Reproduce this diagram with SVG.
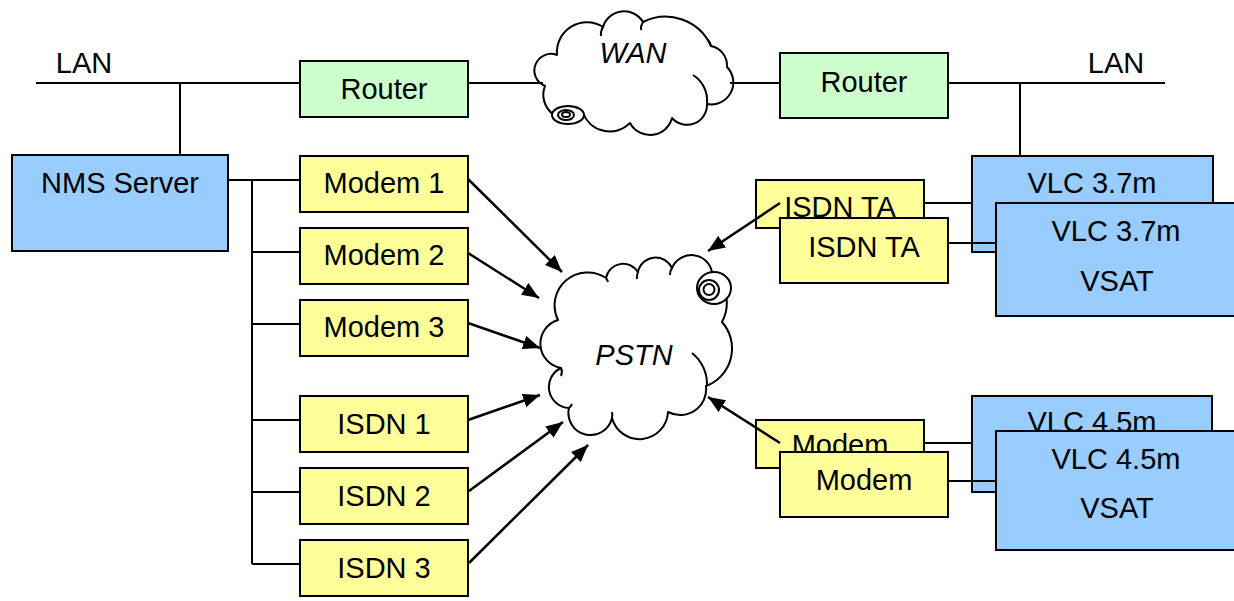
<svg xmlns="http://www.w3.org/2000/svg" width="1234" height="601" viewBox="0 0 1234 601">
<style>
  text { font-family: "Liberation Sans", Arial, sans-serif; font-size: 29px; fill: #000; text-anchor: middle; }
  .it { font-style: italic; }
  .yel { fill: #FFFF99; stroke: #000; stroke-width: 2; }
  .grn { fill: #CCFFCC; stroke: #000; stroke-width: 2; }
  .blu { fill: #99CCFF; stroke: #000; stroke-width: 2; }
  .ln { fill: none; stroke: #000; stroke-width: 2; }
  .arr { fill: none; stroke: #000; stroke-width: 2.5; marker-end: url(#ah); }
  .cloud { fill: #fff; stroke: #000; stroke-width: 2; stroke-linejoin: round; }
</style>
<defs>
  <marker id="ah" markerUnits="userSpaceOnUse" markerWidth="18" markerHeight="14" refX="17" refY="7" orient="auto">
    <path d="M0,0 L17,7 L0,14 z" fill="#000"/>
  </marker>
</defs>
<rect width="1234" height="601" fill="#fff"/>

<g id="lan-left-label"><text x="84" y="73">LAN</text></g>
<g id="lan-right-label"><text x="1116" y="73">LAN</text></g>

<g id="wan">
  <path class="cloud" d="M557,55 A30,30 0 0 1 603,27 A22,22 0 0 1 643,22 A50,50 0 0 1 711,46 A20,20 0 0 1 727,67 A22,22 0 0 1 707,104 A20,20 0 0 1 672,118 A22.7,22.7 0 0 1 630,123 A28.6,28.6 0 0 1 583,113 A24,24 0 0 1 545,86 A16,16 0 0 1 557,55 Z"/>
  <path class="ln" d="M693,75 A30,30 0 0 1 707,103 M603,27 A14,14 0 0 0 601,36 M643,22 A12,12 0 0 0 641,30 M711,46 A12,12 0 0 0 708,40"/>
  <ellipse cx="568" cy="115" rx="16" ry="9" class="cloud"/>
  <ellipse cx="566" cy="115" rx="8" ry="5" class="ln"/>
  <ellipse cx="566" cy="114.5" rx="4" ry="2.5" class="ln"/>
  <text class="it" x="633" y="63">WAN</text>
</g>

<g id="pstn">
  <path class="cloud" d="M558,320 A33,33 0 0 1 606,278 A17.5,17.5 0 0 1 638,272 A18,18 0 0 1 672,268 A21,21 0 0 1 712,272 A40,40 0 0 1 722,322 A40,40 0 0 1 706,386 A26,26 0 0 1 668,412 A28.5,28.5 0 0 1 612,418 A22,22 0 0 1 569,408 A21,21 0 0 1 561,368 A24.7,24.7 0 0 1 558,320 Z"/>
  <path class="ln" d="M692,353 A40,40 0 0 1 707,386 M606,278 A14,14 0 0 1 608,282 M638,272 A12,12 0 0 0 637,279 M672,268 A12,12 0 0 0 670,275 M561,368 A10,10 0 0 1 561,376 M569,408 A14,14 0 0 0 572,404 M612,418 A14,14 0 0 0 612,412"/>
  <ellipse cx="714" cy="288" rx="17" ry="16" class="cloud"/>
  <circle cx="709" cy="290" r="10" class="ln"/>
  <circle cx="709" cy="289.5" r="5.5" class="ln"/>
  <text class="it" x="634" y="365">PSTN</text>
</g>

<g id="isdn-ta-back"><rect class="yel" x="756" y="180" width="168" height="48"/><text x="840" y="217">ISDN TA</text></g>
<g id="vlc37-back"><rect class="blu" x="972" y="156" width="241" height="96"/><text x="1092" y="193">VLC 3.7m</text></g>
<g id="modem-back"><rect class="yel" x="756" y="420" width="168" height="48"/><text x="840" y="455">Modem</text></g>
<g id="vlc45-back"><rect class="blu" x="972" y="396" width="240" height="96"/><text x="1092" y="432">VLC 4.5m</text></g>

<g id="connectors">
  <path class="ln" d="M36,83 H300 M468,83 H543 M730,83 H780 M948,83 H1165 M180,83 V155 M1020,83 V156"/>
  <path class="ln" d="M228,180 H300 M252,180 V564 M252,252 H300 M252,324 H300 M252,420 H300 M252,492 H300 M252,564 H300"/>
  <path class="ln" d="M924,203 H972 M948,243 H996 M924,443 H972 M948,481 H996"/>
  <line class="arr" x1="468" y1="179" x2="562" y2="272"/>
  <line class="arr" x1="468" y1="253" x2="539" y2="298"/>
  <line class="arr" x1="468" y1="323" x2="540" y2="348"/>
  <line class="arr" x1="468" y1="420" x2="540" y2="395"/>
  <line class="arr" x1="469" y1="491" x2="563" y2="422"/>
  <line class="arr" x1="469" y1="563" x2="588" y2="445"/>
  <line class="arr" x1="780" y1="203" x2="708" y2="251"/>
  <line class="arr" x1="780" y1="443" x2="708" y2="397"/>
</g>

<g id="nms-server"><rect class="blu" x="12" y="155" width="216" height="96"/><text x="120" y="193">NMS Server</text></g>
<g id="router-left"><rect class="grn" x="300" y="61" width="168" height="56"/><text x="384" y="99">Router</text></g>
<g id="router-right"><rect class="grn" x="780" y="53" width="168" height="65"/><text x="864" y="92">Router</text></g>
<g id="modem1"><rect class="yel" x="300" y="156" width="168" height="56"/><text x="384" y="193">Modem 1</text></g>
<g id="modem2"><rect class="yel" x="300" y="228" width="168" height="56"/><text x="384" y="265">Modem 2</text></g>
<g id="modem3"><rect class="yel" x="300" y="300" width="168" height="56"/><text x="384" y="337">Modem 3</text></g>
<g id="isdn1"><rect class="yel" x="300" y="396" width="168" height="56"/><text x="384" y="434">ISDN 1</text></g>
<g id="isdn2"><rect class="yel" x="300" y="468" width="168" height="56"/><text x="384" y="506">ISDN 2</text></g>
<g id="isdn3"><rect class="yel" x="300" y="540" width="168" height="56"/><text x="384" y="578">ISDN 3</text></g>

<g id="isdn-ta-front"><rect class="yel" x="780" y="218" width="168" height="65"/><text x="864" y="257">ISDN TA</text></g>
<g id="vlc37-front"><rect class="blu" x="996" y="203" width="240" height="113"/><text x="1116" y="241">VLC 3.7m</text><text x="1117" y="291">VSAT</text></g>
<g id="modem-front"><rect class="yel" x="780" y="452" width="168" height="65"/><text x="864" y="490">Modem</text></g>
<g id="vlc45-front"><rect class="blu" x="996" y="431" width="240" height="119"/><text x="1116" y="469">VLC 4.5m</text><text x="1117" y="518">VSAT</text></g>
</svg>
